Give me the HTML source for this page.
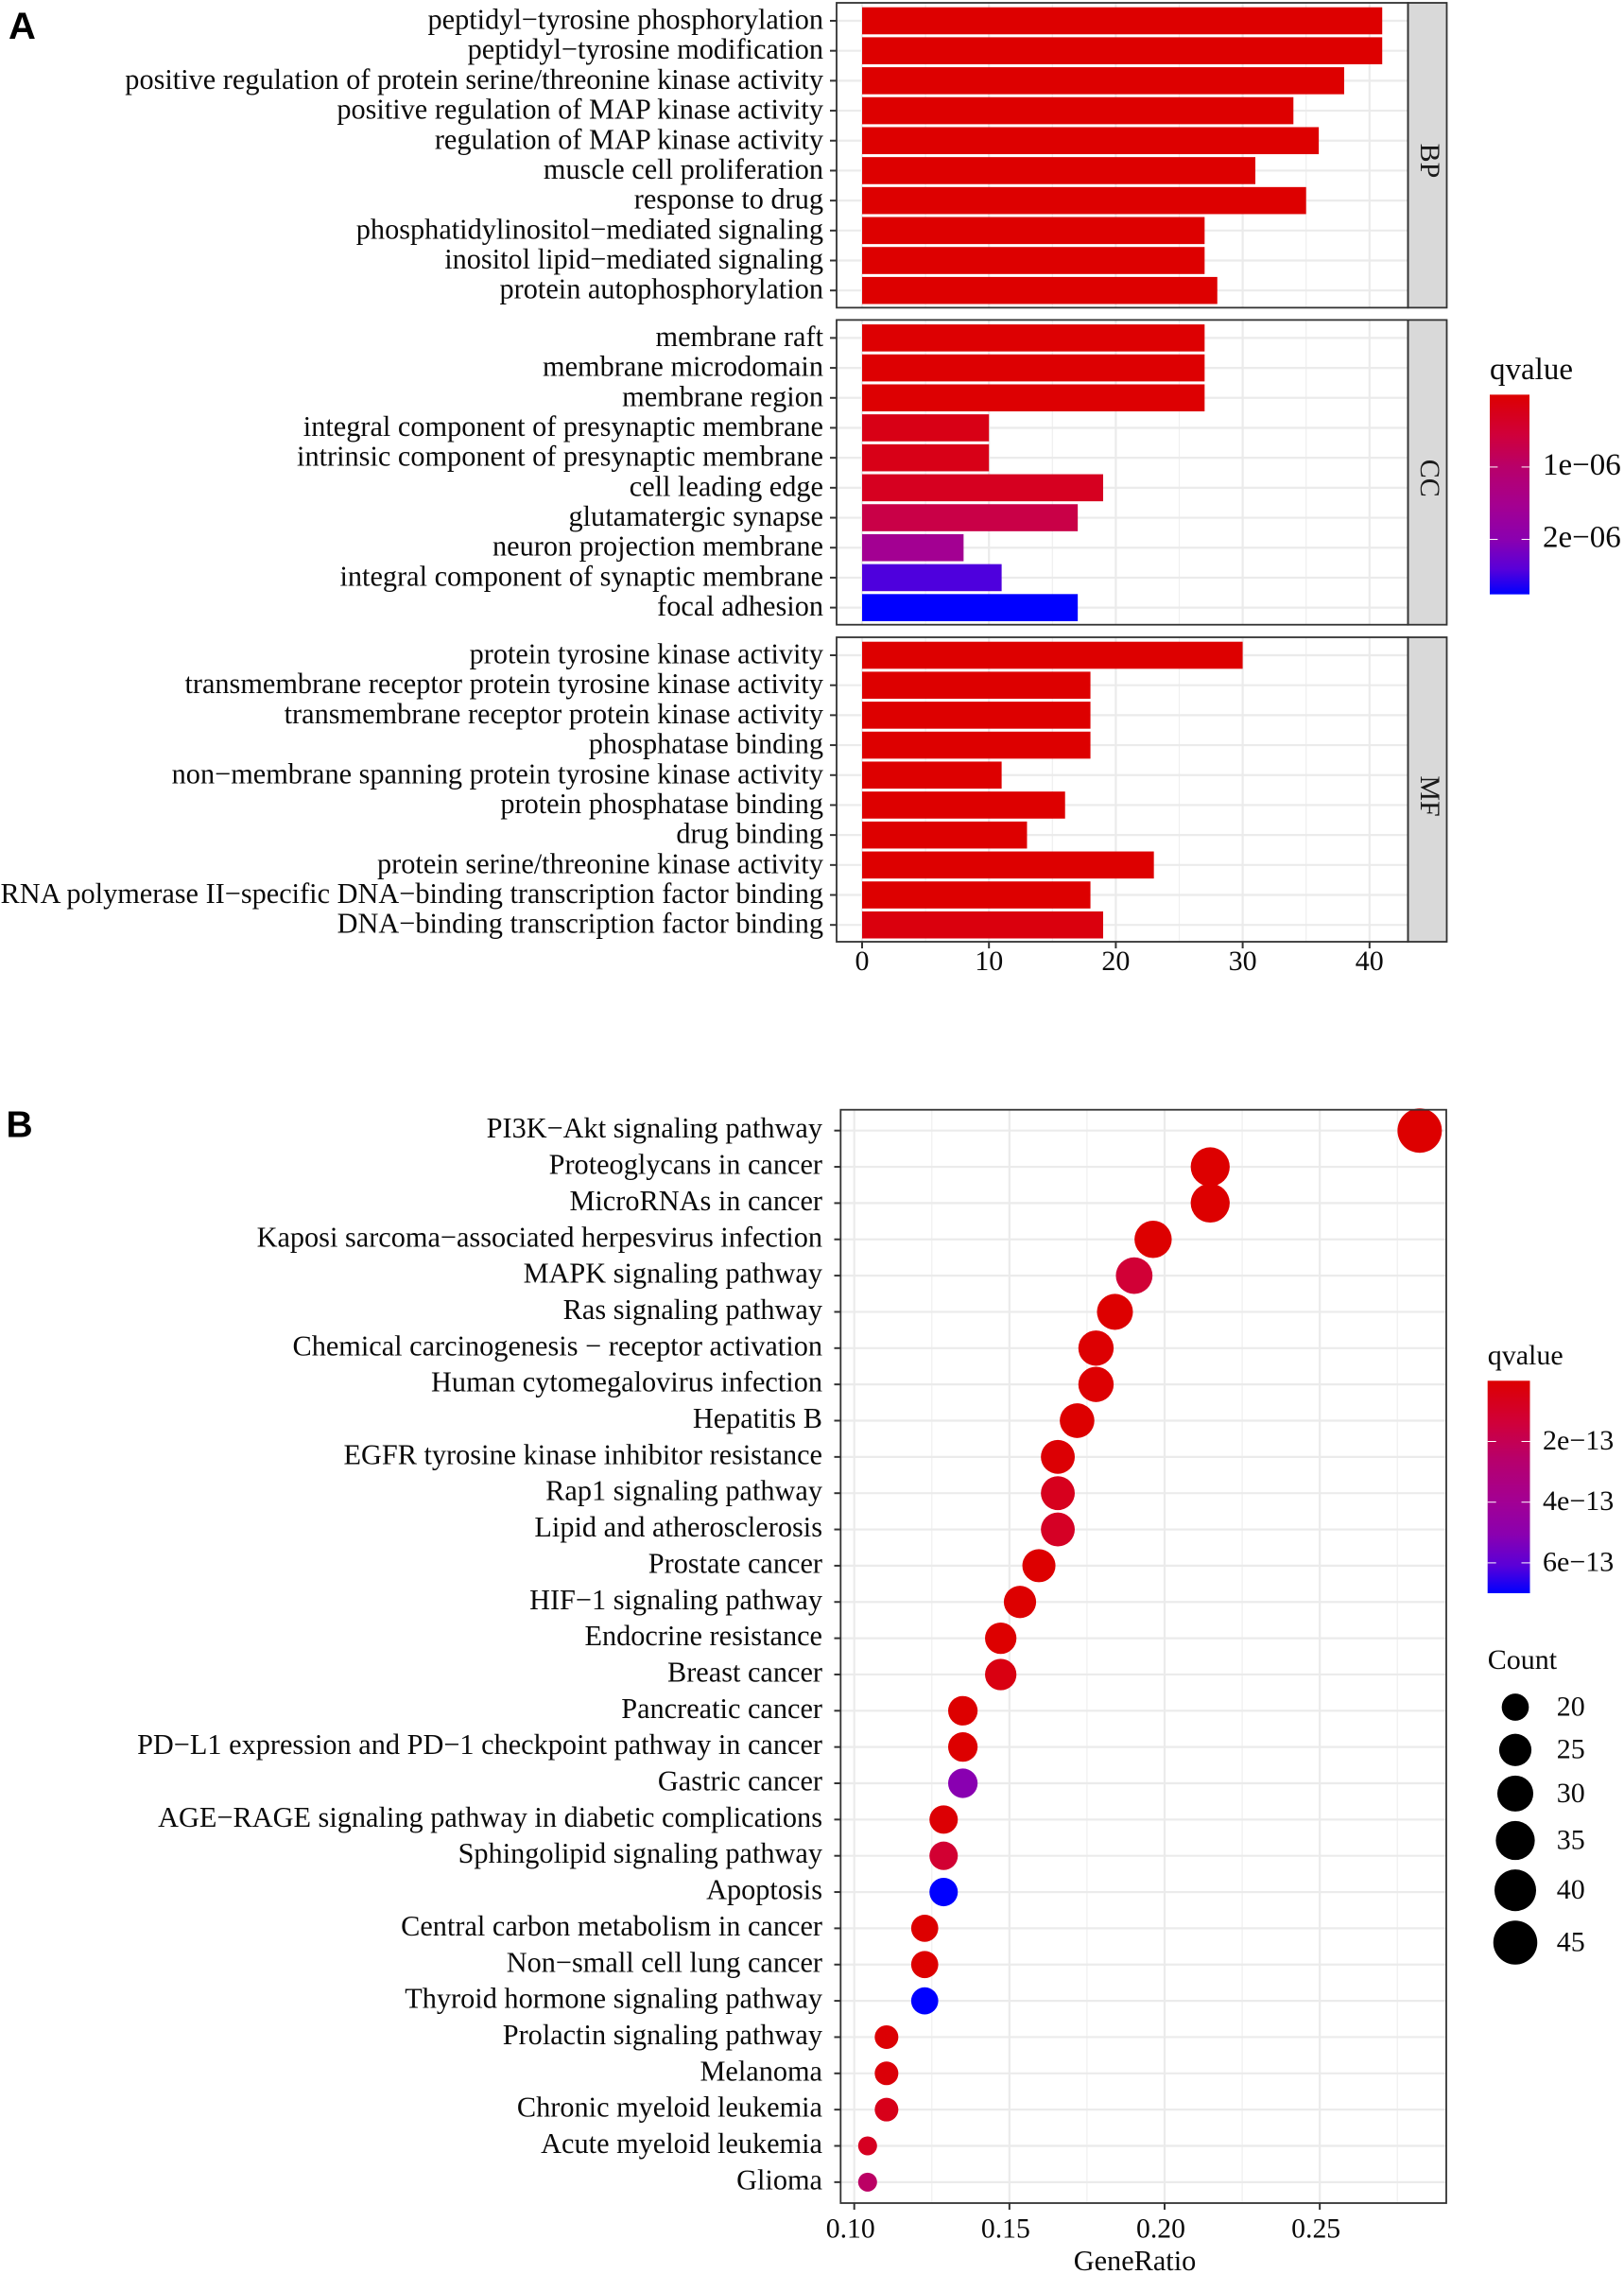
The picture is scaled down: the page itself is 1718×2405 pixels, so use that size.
<!DOCTYPE html>
<html lang="en">
<head>
<meta charset="utf-8">
<title>GO and KEGG enrichment charts</title>
<style>
html,body{margin:0;padding:0;background:#fff;}
svg{display:block;font-family:"Liberation Serif",serif;}
</style>
</head>
<body>
<svg id="figure" xmlns="http://www.w3.org/2000/svg" width="1718" height="2405" viewBox="0 0 1718 2405">
<rect width="1718" height="2405" fill="#fff"/>
<text x="9" y="41" font-family="'Liberation Sans',sans-serif" font-weight="700" font-size="40">A</text>
<text x="6.5" y="1202.7" font-family="'Liberation Sans',sans-serif" font-weight="700" font-size="39">B</text>
<defs>
<linearGradient id="grad" x1="0" y1="0" x2="0" y2="1">
<stop offset="0" stop-color="#dd0000"/><stop offset="0.2" stop-color="#d0003a"/><stop offset="0.365" stop-color="#b8006a"/><stop offset="0.55" stop-color="#a50090"/><stop offset="0.726" stop-color="#8a00b0"/><stop offset="0.87" stop-color="#5a00d8"/><stop offset="1" stop-color="#0000ff"/>
</linearGradient>
</defs>
</svg>
<script>
// ---- Panel A data ----
const bpTerms = ["peptidyl\u2212tyrosine phosphorylation","peptidyl\u2212tyrosine modification","positive regulation of protein serine/threonine kinase activity","positive regulation of MAP kinase activity","regulation of MAP kinase activity","muscle cell proliferation","response to drug","phosphatidylinositol\u2212mediated signaling","inositol lipid\u2212mediated signaling","protein autophosphorylation"];
const bpCounts = [41,41,38,34,36,31,35,27,27,28];
const bpQvalues = [0,0,0,0,0,0,0,0,0,0];
const ccTerms = ["membrane raft","membrane microdomain","membrane region","integral component of presynaptic membrane","intrinsic component of presynaptic membrane","cell leading edge","glutamatergic synapse","neuron projection membrane","integral component of synaptic membrane","focal adhesion"];
const ccCounts = [27,27,27,10,10,19,17,8,11,17];
const ccQvalues = [0.02e-6,0.02e-6,0.02e-6,0.2e-6,0.22e-6,0.3e-6,0.68e-6,1.55e-6,2.45e-6,2.76e-6];
const mfTerms = ["protein tyrosine kinase activity","transmembrane receptor protein tyrosine kinase activity","transmembrane receptor protein kinase activity","phosphatase binding","non\u2212membrane spanning protein tyrosine kinase activity","protein phosphatase binding","drug binding","protein serine/threonine kinase activity","RNA polymerase II\u2212specific DNA\u2212binding transcription factor binding","DNA\u2212binding transcription factor binding"];
const mfCounts = [30,18,18,18,11,16,13,23,18,19];
const mfQvalues = [0,0,0,0,0,0,0,0,0,0.12e-6];
const countTicks = [0,10,20,30,40];
const countMinorTicks = [5,15,25,35];
const qTicksA = [1e-6,2e-6];
const qTickLabelsA = ["1e\u221206","2e\u221206"];
const qMaxA = 2.76e-6;

// ---- Panel B data ----
const pathways = ["PI3K\u2212Akt signaling pathway","Proteoglycans in cancer","MicroRNAs in cancer","Kaposi sarcoma\u2212associated herpesvirus infection","MAPK signaling pathway","Ras signaling pathway","Chemical carcinogenesis \u2212 receptor activation","Human cytomegalovirus infection","Hepatitis B","EGFR tyrosine kinase inhibitor resistance","Rap1 signaling pathway","Lipid and atherosclerosis","Prostate cancer","HIF\u22121 signaling pathway","Endocrine resistance","Breast cancer","Pancreatic cancer","PD\u2212L1 expression and PD\u22121 checkpoint pathway in cancer","Gastric cancer","AGE\u2212RAGE signaling pathway in diabetic complications","Sphingolipid signaling pathway","Apoptosis","Central carbon metabolism in cancer","Non\u2212small cell lung cancer","Thyroid hormone signaling pathway","Prolactin signaling pathway","Melanoma","Chronic myeloid leukemia","Acute myeloid leukemia","Glioma"];
const geneRatios = [0.2822,0.2147,0.2147,0.1963,0.1902,0.1840,0.1779,0.1779,0.1718,0.1656,0.1656,0.1656,0.1595,0.1534,0.1472,0.1472,0.1350,0.1350,0.1350,0.1288,0.1288,0.1288,0.1227,0.1227,0.1227,0.1104,0.1104,0.1104,0.1043,0.1043];
const pathwayCounts = [46,35,35,32,31,30,29,29,28,27,27,27,26,25,24,24,22,22,22,21,21,21,20,20,20,18,18,18,17,17];
const pathwayQvalues = [0,0,0,0,1.3e-13,0,0.05e-13,0.05e-13,0,0.1e-13,0.7e-13,0.9e-13,0,0,0,0.4e-13,0,0,5.1e-13,0.1e-13,1.2e-13,7e-13,0,0,7e-13,0.1e-13,0.2e-13,0.6e-13,0.8e-13,2.4e-13];
const ratioTicks = [0.10,0.15,0.20,0.25];
const ratioTickLabels = ["0.10","0.15","0.20","0.25"];
const ratioMinorTicks = [0.125,0.175,0.225,0.275];
const qTicksB = [2e-13,4e-13,6e-13];
const qTickLabelsB = ["2e\u221213","4e\u221213","6e\u221213"];
const qMaxB = 7e-13;
const sizeLegendCounts = [20,25,30,35,40,45];

// ---- Scales ----
const svg = document.getElementById('figure');
const NS = 'http://www.w3.org/2000/svg';
function mk(tag, attrs, parent, text){
  const n = document.createElementNS(NS, tag);
  for (const k in attrs) n.setAttribute(k, attrs[k]);
  if (text !== undefined) n.textContent = text;
  (parent || svg).appendChild(n);
  return n;
}
const xA = v => 912 + v * 13.42;
const xB = v => 903.7 + (v - 0.1) * 3283;
const rowA = (top, i) => top + 19 + i * 31.69;
const rowB = i => 1195.7 + i * 38.35;
const colorStops = [[0,[221,0,0]],[0.2,[208,0,58]],[0.365,[184,0,106]],[0.55,[165,0,144]],[0.726,[138,0,176]],[0.87,[90,0,216]],[1,[0,0,255]]];
function colorFor(t){
  t = Math.max(0, Math.min(1, t));
  for (let i = 1; i < colorStops.length; i++){
    const a = colorStops[i-1], b = colorStops[i];
    if (t <= b[0]){
      const f = (t - a[0]) / (b[0] - a[0]);
      const c = a[1].map((v, j) => Math.round(v + (b[1][j] - v) * f));
      return 'rgb(' + c.join(',') + ')';
    }
  }
  return 'rgb(0,0,255)';
}
const sizeMin = 17, sizeMax = 46;
const radiusFor = c => (20 + 27 * Math.sqrt(Math.max(0, (c - sizeMin) / (sizeMax - sizeMin)))) / 2;
const TEXT = '#0a0a0a';

// ---- Panel A ----
const plotLeft = 885, plotRight = 1489.5, stripRight = 1530.5;
const facets = [
  {key:'bp', label:'BP', top:3, bottom:325.4, terms:bpTerms, counts:bpCounts, q:bpQvalues, labelY:170},
  {key:'cc', label:'CC', top:338.4, bottom:660.7, terms:ccTerms, counts:ccCounts, q:ccQvalues, labelY:505.8},
  {key:'mf', label:'MF', top:674, bottom:996, terms:mfTerms, counts:mfCounts, q:mfQvalues, labelY:842}
];
facets.forEach(f => {
  const g = mk('g', {});
  
  
  countMinorTicks.forEach(v => {
    const l = mk('line', {x1:xA(v), x2:xA(v), y1:f.top, y2:f.bottom, stroke:'#efefef', 'stroke-width':1.2}, g);
    
    
  });
  countTicks.forEach(v => {
    const l = mk('line', {x1:xA(v), x2:xA(v), y1:f.top, y2:f.bottom, stroke:'#ebebeb', 'stroke-width':2.2}, g);
    
    
  });
  f.terms.forEach((t, i) => {
    const y = rowA(f.top, i);
    const gl = mk('line', {x1:plotLeft, x2:plotRight, y1:y, y2:y, stroke:'#ebebeb', 'stroke-width':2.2}, g);
    
    
  });
  f.terms.forEach((t, i) => {
    const y = rowA(f.top, i);
    const bar = mk('rect', {x:xA(0), y:y - 14.3, width:xA(f.counts[i]) - xA(0), height:28.6, fill:colorFor(f.q[i] / qMaxA)}, g);
    
    
    const tick = mk('line', {x1:878, x2:plotLeft, y1:y, y2:y, stroke:'#333', 'stroke-width':2}, g);
    
    
    const lab = mk('text', {x:871, y:y + 8.5, 'text-anchor':'end', 'font-size':30.3, fill:TEXT}, g, t);
    
    
  });
  const strip = mk('rect', {x:plotRight, y:f.top, width:stripRight - plotRight, height:f.bottom - f.top, fill:'#d9d9d9', stroke:'#333', 'stroke-width':1.8}, g);
  
  
  const border = mk('rect', {x:plotLeft, y:f.top, width:plotRight - plotLeft, height:f.bottom - f.top, fill:'none', stroke:'#333', 'stroke-width':1.8}, g);
  
  
  const st = mk('text', {x:1503, y:f.labelY, transform:'rotate(90 1503 ' + f.labelY + ')', 'text-anchor':'middle', 'font-size':30, fill:'#1a1a1a'}, g, f.label);
  
  
});
countTicks.forEach(v => {
  const t = mk('line', {x1:xA(v), x2:xA(v), y1:996, y2:1003, stroke:'#333', 'stroke-width':2});
  
  
  const l = mk('text', {x:xA(v), y:1026, 'text-anchor':'middle', 'font-size':30, fill:TEXT}, svg, String(v));
  
  
});

// Panel A colour legend
const titleA = mk('text', {x:1576, y:401, 'font-size':33, fill:TEXT}, svg, 'qvalue');


const barATop = 417.4, barAH = 211.2;
const barA = mk('rect', {x:1576, y:barATop, width:42, height:barAH, fill:'url(#grad)'});


qTicksA.forEach((q, i) => {
  const y = barATop + q / qMaxA * barAH;
  const t1 = mk('line', {x1:1576, x2:1584.4, y1:y, y2:y, stroke:'#fff', 'stroke-width':1});
  
  
  const t2 = mk('line', {x1:1609.6, x2:1618, y1:y, y2:y, stroke:'#fff', 'stroke-width':1});
  
  
  const l = mk('text', {x:1632, y:y + 8, 'font-size':33, fill:TEXT}, svg, qTickLabelsA[i]);
  
  
});

// ---- Panel B ----
const bLeft = 889.3, bRight = 1530, bTop = 1173.7, bBottom = 2330;
ratioMinorTicks.forEach(v => {
  const l = mk('line', {x1:xB(v), x2:xB(v), y1:bTop, y2:bBottom, stroke:'#efefef', 'stroke-width':1.2});
  
  
});
ratioTicks.forEach(v => {
  const l = mk('line', {x1:xB(v), x2:xB(v), y1:bTop, y2:bBottom, stroke:'#ebebeb', 'stroke-width':2.2});
  
  
});
pathways.forEach((p, i) => {
  const y = rowB(i);
  const gl = mk('line', {x1:bLeft, x2:bRight, y1:y, y2:y, stroke:'#ebebeb', 'stroke-width':2.2});
  
  
});
pathways.forEach((p, i) => {
  const y = rowB(i);
  const dot = mk('circle', {cx:xB(geneRatios[i]), cy:y, r:radiusFor(pathwayCounts[i]), fill:colorFor(pathwayQvalues[i] / qMaxB)});
  
  
  const tick = mk('line', {x1:882.5, x2:bLeft, y1:y, y2:y, stroke:'#333', 'stroke-width':2});
  
  
  const lab = mk('text', {x:870, y:y + 7.5, 'text-anchor':'end', 'font-size':30.3, fill:TEXT}, svg, p);
  
  
});
const bBorder = mk('rect', {x:bLeft, y:bTop, width:bRight - bLeft, height:bBottom - bTop, fill:'none', stroke:'#333', 'stroke-width':1.8});


ratioTicks.forEach((v, i) => {
  const t = mk('line', {x1:xB(v), x2:xB(v), y1:bBottom, y2:bBottom + 7, stroke:'#333', 'stroke-width':2});
  
  
  const l = mk('text', {x:xB(v) - 4, y:2366.4, 'text-anchor':'middle', 'font-size':29.7, fill:TEXT}, svg, ratioTickLabels[i]);
  
  
});
const xTitle = mk('text', {x:1200.5, y:2401, 'text-anchor':'middle', 'font-size':30.3, fill:TEXT}, svg, 'GeneRatio');



// Panel B colour legend
const titleB = mk('text', {x:1573.7, y:1443, 'font-size':30, fill:TEXT}, svg, 'qvalue');


const barBTop = 1460.3, barBH = 224.7;
const barB = mk('rect', {x:1573.7, y:barBTop, width:44.8, height:barBH, fill:'url(#grad)'});


qTicksB.forEach((q, i) => {
  const y = barBTop + q / qMaxB * barBH;
  const t1 = mk('line', {x1:1573.7, x2:1582.7, y1:y, y2:y, stroke:'#fff', 'stroke-width':1});
  
  
  const t2 = mk('line', {x1:1609.5, x2:1618.5, y1:y, y2:y, stroke:'#fff', 'stroke-width':1});
  
  
  const l = mk('text', {x:1632, y:y + 8.5, 'font-size':30, fill:TEXT}, svg, qTickLabelsB[i]);
  
  
});

// Size legend
const titleC = mk('text', {x:1573.7, y:1765, 'font-size':30, fill:TEXT}, svg, 'Count');


let legendY = 1805.5;
sizeLegendCounts.forEach((c, i) => {
  const r = radiusFor(c);
  if (i > 0) legendY += radiusFor(sizeLegendCounts[i - 1]) + r + (i === 1 ? 13.8 : 10);
  const d = mk('circle', {cx:1603, cy:legendY, r:r, fill:'#000'});
  
  
  const l = mk('text', {x:1646.8, y:legendY + 9, 'font-size':30, fill:TEXT}, svg, String(c));
  
  
});
</script>
</body>
</html>
